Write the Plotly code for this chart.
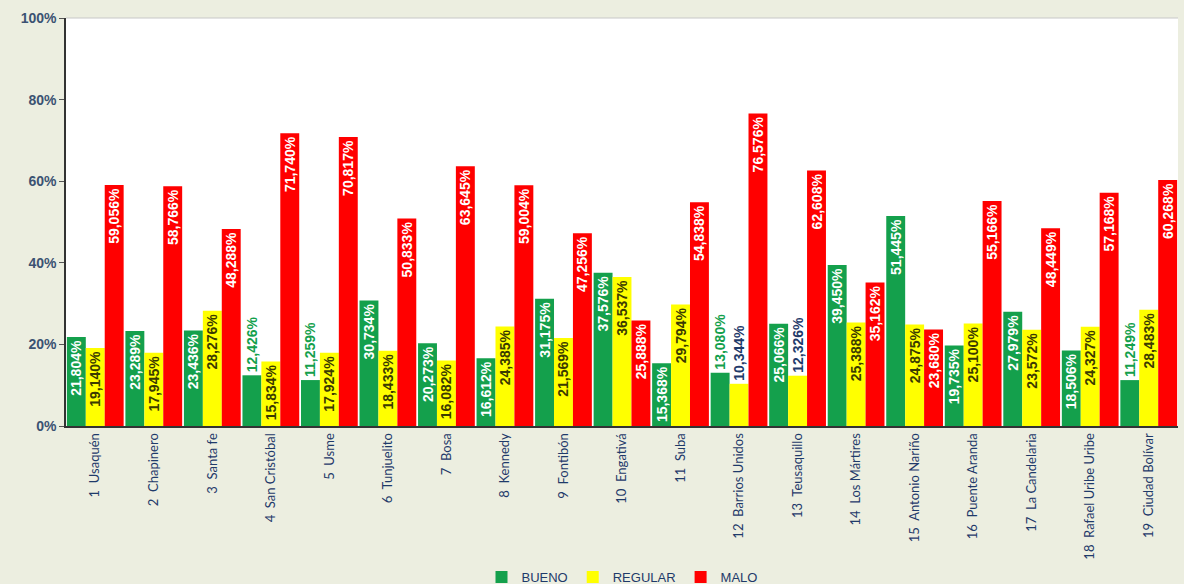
import plotly.graph_objects as go

categories = ["1  Usaquén", "2  Chapinero", "3  Santa fe", "4  San Cristóbal", "5  Usme",
              "6  Tunjuelito", "7  Bosa", "8  Kennedy", "9  Fontibón", "10  Engativá",
              "11  Suba", "12  Barrios Unidos", "13  Teusaquillo", "14  Los Mártires",
              "15  Antonio Nariño", "16  Puente Aranda", "17  La Candelaria",
              "18  Rafael Uribe Uribe", "19  Ciudad Bolívar"]
bueno = [21.804, 23.289, 23.436, 12.426, 11.259, 30.734, 20.273, 16.612, 31.175, 37.576,
         15.368, 13.080, 25.066, 39.450, 51.445, 19.735, 27.979, 18.506, 11.249]
regular = [19.140, 17.945, 28.276, 15.834, 17.924, 18.433, 16.082, 24.385, 21.569, 36.537,
           29.794, 10.344, 12.326, 25.388, 24.875, 25.100, 23.572, 24.327, 28.483]
malo = [59.056, 58.766, 48.288, 71.740, 70.817, 50.833, 63.645, 59.004, 47.256, 25.888,
        54.838, 76.576, 62.608, 35.162, 23.680, 55.166, 48.449, 57.168, 60.268]
series_names = ["BUENO", "REGULAR", "MALO"]
y_ticks = [0, 20, 40, 60, 80, 100]
y_ticktext = ["0%", "20%", "40%", "60%", "80%", "100%"]

colors = ["#14a04c", "#ffff00", "#ff0000"]
inside_font = ["#ffffff", "#3a3a00", "#ffffff"]
outside_font = ["#14a04c", "#1f3a6a", "#ffffff"]
label_font = "Liberation Sans Narrow, Arial Narrow, sans-serif"

fig = go.Figure()
for name, vals, col, inf, outf in zip(series_names, [bueno, regular, malo], colors, inside_font, outside_font):
    pos = ["inside" if v > 14 else "outside" for v in vals]
    fig.add_trace(go.Bar(
        x=categories, y=vals, name=name,
        marker=dict(color=col, line=dict(width=0)),
        texttemplate="%{y:.3f}%", textposition=pos, textangle=-90,
        insidetextanchor="end", constraintext="none",
        insidetextfont=dict(family=label_font, size=14, color=inf, weight="bold"),
        outsidetextfont=dict(family=label_font, size=14, color=outf, weight="bold"),
        cliponaxis=False,
    ))

fig.update_layout(
    width=1184, height=584,
    separators=",.",
    barmode="group", bargap=0.03, bargroupgap=0,
    paper_bgcolor="#eceee0", plot_bgcolor="#ffffff",
    margin=dict(l=66, r=6, t=18, b=158, autoexpand=False),
    legend=dict(orientation="h", x=0.5, xanchor="center", y=-0.37, yanchor="middle",
                font=dict(family="Liberation Sans Narrow, sans-serif", size=13, color="#1f3a6a"),
                itemwidth=30, traceorder="normal", bgcolor="rgba(0,0,0,0)"),
    showlegend=True,
)
fig.update_xaxes(
    tickangle=-90, showline=True, linecolor="#333333", linewidth=2,
    tickfont=dict(family="Lato, sans-serif", size=13, color="#1f3a6a"),
    ticks="", showgrid=False, automargin=False,
)
fig.update_yaxes(
    range=[0, 100], tickvals=y_ticks, ticktext=y_ticktext,
    showline=True, linecolor="#333333", linewidth=1.5,
    ticks="outside", ticklen=5, tickcolor="#555555",
    showgrid=False, zeroline=False, automargin=False,
    tickfont=dict(family="Liberation Sans, Arial, sans-serif", size=14, color="#3b5272", weight="bold"),
)
fig.add_shape(type="line", xref="paper", yref="paper", x0=0, x1=1, y0=1, y1=1,
              line=dict(color="#c8c8c8", width=1))
fig.write_html("out.html", config={"displayModeBar": False},
               post_script="document.body.style.margin='0';document.body.style.padding='0';document.body.style.overflow='hidden';")
